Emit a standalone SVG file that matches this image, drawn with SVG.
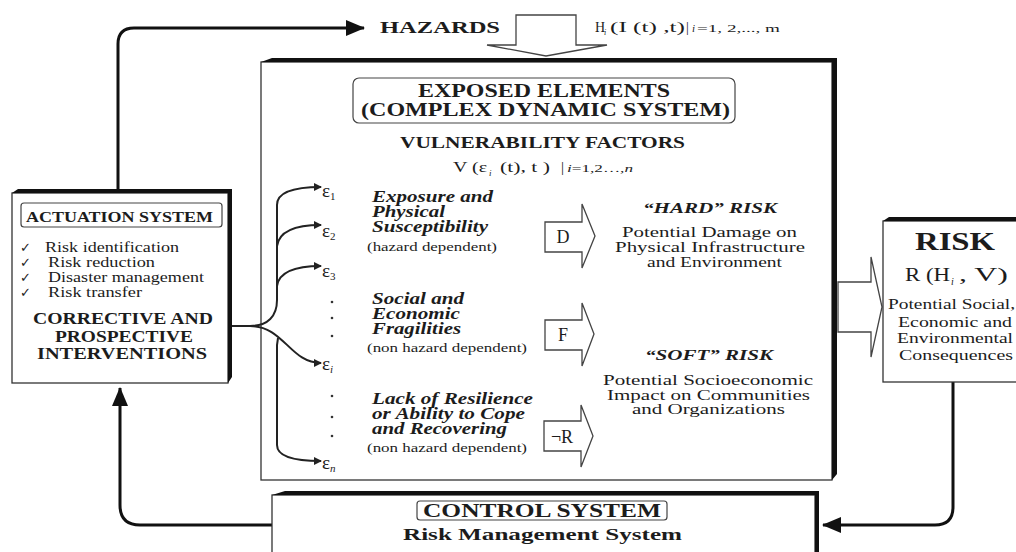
<svg xmlns="http://www.w3.org/2000/svg" width="1016" height="552" viewBox="0 0 1016 552" font-family="'Liberation Serif', 'DejaVu Serif', serif">
<style>
.t{font-family:"Liberation Serif","DejaVu Serif","Times New Roman",serif;fill:#1c1c1c}
.b{font-weight:bold}
.bi{font-weight:bold;font-style:italic}
.it{font-style:italic}
.face{fill:#fff;stroke:#333;stroke-width:1.3}
.ext{fill:#111}
.hollow{fill:#fff;stroke:#444;stroke-width:1.3;stroke-linejoin:miter}
.conn{fill:none;stroke:#111;stroke-width:3}
.eps{fill:none;stroke:#222;stroke-width:2}
.lbl{fill:none;stroke:#444;stroke-width:1.2}
.chk{font-family:"DejaVu Sans",sans-serif;fill:#222}
</style>
<defs>
<marker id="ah" markerUnits="userSpaceOnUse" markerWidth="19" markerHeight="16" refX="18" refY="8" orient="auto">
<path d="M0,0 L19,8 L0,16 Z" fill="#111"/>
</marker>
<marker id="sa" markerUnits="userSpaceOnUse" markerWidth="8" markerHeight="8" refX="7" refY="4" orient="auto">
<path d="M0,0 L8,4 L0,8 Z" fill="#222"/>
</marker>
</defs>
<rect width="1016" height="552" fill="#fff"/>

<g id="connectors">
<path class="conn" d="M118,189 L118,44 Q118,28 134,28 L364,28" marker-end="url(#ah)"/>
<path class="conn" d="M272,525 L140,525 Q120,525 120,505 L120,388" marker-end="url(#ah)"/>
<path class="conn" d="M953,382 L953,507 Q953,525 935,525 L823,525" marker-end="url(#ah)"/>
<polygon class="hollow" points="516,15 576,15 576,45 607,45 546,56 487,45 516,45"/>
<polygon class="hollow" points="838,282 871,282 871,257 882,307 871,357 871,332 838,332"/>
</g>

<g id="hazards">
<text class="t b" x="380" y="33" font-size="17" textLength="120" lengthAdjust="spacingAndGlyphs">HAZARDS</text>
<text class="t" x="595" y="32" font-size="14">H</text>
<text class="t it" x="604" y="35" font-size="8">i</text>
<text class="t" x="610" y="32" font-size="14" textLength="75" lengthAdjust="spacingAndGlyphs">(I (t) ,t)</text>
<text class="t" x="686" y="32" font-size="14">|</text>
<text class="t it" x="692" y="32" font-size="11">i</text>
<text class="t" x="697" y="32" font-size="11" textLength="83" lengthAdjust="spacingAndGlyphs">=1, 2,..., m</text>
</g>

<g id="exposed-elements">
<rect class="face" x="261" y="62" width="571" height="418"/>
<path class="ext" d="M261,62 L272,58 L837,58 L837,474 L832,480 L832,62 Z"/>
<rect class="lbl" x="353" y="78" width="382" height="45" rx="6"/>
<text class="t b" x="418" y="97" font-size="19" textLength="252" lengthAdjust="spacingAndGlyphs">EXPOSED ELEMENTS</text>
<text class="t b" x="361" y="116" font-size="19" textLength="369" lengthAdjust="spacingAndGlyphs">(COMPLEX DYNAMIC SYSTEM)</text>
<text class="t b" x="400" y="148" font-size="16" textLength="285" lengthAdjust="spacingAndGlyphs">VULNERABILITY FACTORS</text>
<text class="t" x="453" y="172" font-size="15" textLength="34" lengthAdjust="spacingAndGlyphs">V (ε</text>
<text class="t it" x="489" y="176" font-size="9">i</text>
<text class="t" x="500" y="172" font-size="15" textLength="50" lengthAdjust="spacingAndGlyphs">(t), t )</text>
<text class="t" x="561" y="172" font-size="15">|</text>
<text class="t" x="567" y="172" font-size="11" textLength="66" lengthAdjust="spacingAndGlyphs"><tspan class="it">i</tspan>=1,2…,<tspan class="it">n</tspan></text>

<path class="eps" d="M232,326 L250,326 C268,326 277,316 277,300 L277,205 C277,193 292,187 321,187" marker-end="url(#sa)"/>
<path class="eps" d="M277,246 C279,232 294,225 321,225" marker-end="url(#sa)"/>
<path class="eps" d="M277,286 C279,272 294,266 321,266" marker-end="url(#sa)"/>
<path class="eps" d="M250,326 C284,326 290,363 321,363" marker-end="url(#sa)"/>
<path class="eps" d="M278,338 L277,345 L277,445 C277,455 290,461 321,461" marker-end="url(#sa)"/>

<text class="t" x="322" y="197" font-size="19">ε<tspan font-size="11" dy="3">1</tspan></text>
<text class="t" x="322" y="237" font-size="19">ε<tspan font-size="11" dy="3">2</tspan></text>
<text class="t" x="322" y="277" font-size="19">ε<tspan font-size="11" dy="3">3</tspan></text>
<text class="t" x="322" y="370" font-size="19">ε<tspan class="it" font-size="11" dy="3">i</tspan></text>
<text class="t" x="322" y="469" font-size="19">ε<tspan class="it" font-size="11" dy="3">n</tspan></text>
<g fill="#333">
<circle cx="332" cy="302" r="1.3"/><circle cx="332" cy="318" r="1.3"/><circle cx="332" cy="336" r="1.3"/>
<circle cx="332" cy="396" r="1.3"/><circle cx="332" cy="417" r="1.3"/><circle cx="332" cy="436" r="1.3"/>
</g>

<text class="t bi" x="372" y="202" font-size="16" textLength="121" lengthAdjust="spacingAndGlyphs">Exposure and</text>
<text class="t bi" x="372" y="217" font-size="16" textLength="73" lengthAdjust="spacingAndGlyphs">Physical</text>
<text class="t bi" x="372" y="232" font-size="16" textLength="116" lengthAdjust="spacingAndGlyphs">Susceptibility</text>
<text class="t" x="367" y="251" font-size="13" textLength="130" lengthAdjust="spacingAndGlyphs">(hazard dependent)</text>

<text class="t bi" x="372" y="304" font-size="16" textLength="92" lengthAdjust="spacingAndGlyphs">Social and</text>
<text class="t bi" x="372" y="319" font-size="16" textLength="88" lengthAdjust="spacingAndGlyphs">Economic</text>
<text class="t bi" x="372" y="334" font-size="16" textLength="89" lengthAdjust="spacingAndGlyphs">Fragilities</text>
<text class="t" x="367" y="352" font-size="13" textLength="160" lengthAdjust="spacingAndGlyphs">(non hazard dependent)</text>

<text class="t bi" x="372" y="404" font-size="16" textLength="161" lengthAdjust="spacingAndGlyphs">Lack of Resilience</text>
<text class="t bi" x="372" y="419" font-size="16" textLength="153" lengthAdjust="spacingAndGlyphs">or Ability to Cope</text>
<text class="t bi" x="372" y="434" font-size="16" textLength="135" lengthAdjust="spacingAndGlyphs">and Recovering</text>
<text class="t" x="367" y="452" font-size="13" textLength="160" lengthAdjust="spacingAndGlyphs">(non hazard dependent)</text>

<polygon class="hollow" points="545,222 582,222 582,204 595,236 582,268 582,252 545,252"/>
<text class="t" x="563" y="243" font-size="18" text-anchor="middle">D</text>
<polygon class="hollow" points="545,320 582,320 582,303 594,334 582,366 582,350 545,350"/>
<text class="t" x="563" y="341" font-size="18" text-anchor="middle">F</text>
<polygon class="hollow" points="544,421 581,421 581,405 593,436 581,467 581,451 544,451"/>
<text class="t" x="562" y="443" font-size="18" text-anchor="middle">¬R</text>

<text class="t bi" x="643" y="213" font-size="15" textLength="134" lengthAdjust="spacingAndGlyphs">“HARD” RISK</text>
<text class="t" x="622" y="237" font-size="15" textLength="175" lengthAdjust="spacingAndGlyphs">Potential Damage on</text>
<text class="t" x="615" y="252" font-size="15" textLength="190" lengthAdjust="spacingAndGlyphs">Physical Infrastructure</text>
<text class="t" x="647" y="267" font-size="15" textLength="135" lengthAdjust="spacingAndGlyphs">and Environment</text>

<text class="t bi" x="645" y="360" font-size="15" textLength="128" lengthAdjust="spacingAndGlyphs">“SOFT” RISK</text>
<text class="t" x="603" y="385" font-size="15" textLength="210" lengthAdjust="spacingAndGlyphs">Potential Socioeconomic</text>
<text class="t" x="607" y="400" font-size="15" textLength="203" lengthAdjust="spacingAndGlyphs">Impact on Communities</text>
<text class="t" x="632" y="414" font-size="15" textLength="153" lengthAdjust="spacingAndGlyphs">and Organizations</text>
</g>

<g id="actuation-system">
<rect class="face" x="12" y="193" width="216" height="190"/>
<path class="ext" d="M12,193 L18,189 L232,189 L232,377 L228,383 L228,193 Z"/>
<rect class="lbl" x="21" y="203" width="201" height="24" rx="3"/>
<text class="t b" x="26" y="222" font-size="15" textLength="187" lengthAdjust="spacingAndGlyphs">ACTUATION SYSTEM</text>
<text class="chk" x="20" y="252" font-size="13">✓</text>
<text class="chk" x="20" y="267" font-size="13">✓</text>
<text class="chk" x="20" y="282" font-size="13">✓</text>
<text class="chk" x="20" y="297" font-size="13">✓</text>
<text class="t" x="45" y="252" font-size="14" textLength="134" lengthAdjust="spacingAndGlyphs">Risk identification</text>
<text class="t" x="48" y="267" font-size="14" textLength="107" lengthAdjust="spacingAndGlyphs">Risk reduction</text>
<text class="t" x="48" y="282" font-size="14" textLength="156" lengthAdjust="spacingAndGlyphs">Disaster management</text>
<text class="t" x="48" y="297" font-size="14" textLength="94" lengthAdjust="spacingAndGlyphs">Risk transfer</text>
<text class="t b" x="33" y="324" font-size="16" textLength="180" lengthAdjust="spacingAndGlyphs">CORRECTIVE AND</text>
<text class="t b" x="55" y="342" font-size="16" textLength="138" lengthAdjust="spacingAndGlyphs">PROSPECTIVE</text>
<text class="t b" x="37" y="359" font-size="16" textLength="170" lengthAdjust="spacingAndGlyphs">INTERVENTIONS</text>
</g>

<g id="risk">
<rect class="face" x="883" y="221" width="150" height="161"/>
<path class="ext" d="M883,221 L889,217 L1030,217 L1030,221 Z"/>
<text class="t b" x="915" y="250" font-size="26" textLength="80" lengthAdjust="spacingAndGlyphs">RISK</text>
<text class="t" x="905" y="281" font-size="19" textLength="45" lengthAdjust="spacingAndGlyphs">R (H</text>
<text class="t it" x="951" y="285" font-size="10">i</text>
<text class="t" x="959" y="281" font-size="19" textLength="49" lengthAdjust="spacingAndGlyphs">, V)</text>
<text class="t" x="888" y="309" font-size="14" textLength="127" lengthAdjust="spacingAndGlyphs">Potential Social,</text>
<text class="t" x="898" y="327" font-size="14" textLength="114" lengthAdjust="spacingAndGlyphs">Economic and</text>
<text class="t" x="897" y="343" font-size="14" textLength="116" lengthAdjust="spacingAndGlyphs">Environmental</text>
<text class="t" x="899" y="360" font-size="14" textLength="114" lengthAdjust="spacingAndGlyphs">Consequences</text>
</g>

<g id="control-system">
<rect class="face" x="272" y="495" width="543" height="80"/>
<path class="ext" d="M272,495 L285,491 L819,491 L819,575 L815,575 L815,495 Z"/>
<rect class="lbl" x="417" y="501" width="250" height="19" rx="3"/>
<text class="t b" x="423" y="517" font-size="18" textLength="238" lengthAdjust="spacingAndGlyphs">CONTROL SYSTEM</text>
<text class="t b" x="403" y="540" font-size="17" textLength="279" lengthAdjust="spacingAndGlyphs">Risk Management System</text>
</g>
</svg>
